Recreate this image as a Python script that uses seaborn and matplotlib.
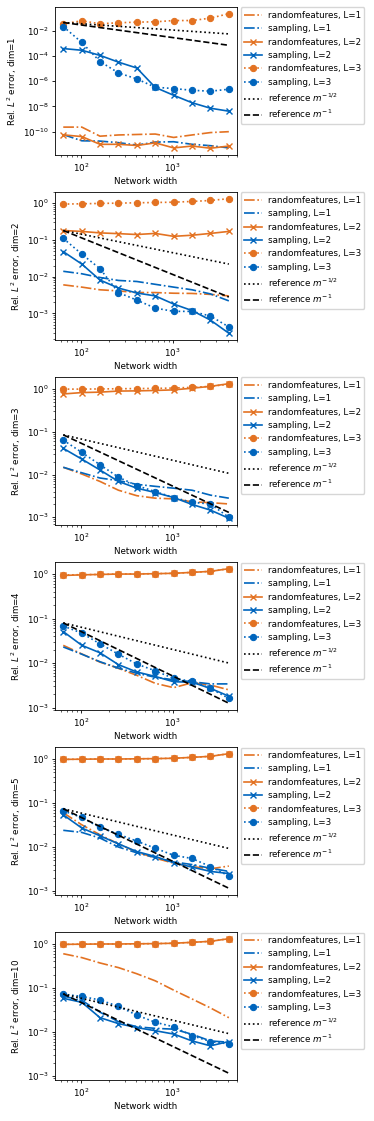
import matplotlib
matplotlib.use("Agg")
import matplotlib.pyplot as plt
import seaborn as sns

# network widths (x axis)
widths = [64, 102, 161, 256, 406, 645, 1024, 1625, 2580, 4096]
dims = [1, 2, 3, 4, 5, 10]

# relative L2 errors, one list per dim
rf_L1 = {
    1: [2.3e-10, 2.3e-10, 4.4e-11, 5.5e-11, 6e-11, 6.5e-11, 3.5e-11, 5.5e-11, 8.5e-11, 1e-10],
    2: [6.0e-3, 5.2e-3, 4.4e-3, 4.1e-3, 3.7e-3, 3.7e-3, 3.55e-3, 3.5e-3, 3.3e-3, 3.0e-3],
    3: [0.0148, 0.0103, 6.9e-3, 4.3e-3, 3.2e-3, 2.8e-3, 2.7e-3, 2.3e-3, 2.2e-3, 2.05e-3],
    4: [0.025, 0.016, 0.0105, 7.6e-3, 5.3e-3, 3.5e-3, 2.8e-3, 3.6e-3, 3.2e-3, 2.5e-3],
    5: [0.06, 0.032, 0.019, 0.0118, 7.7e-3, 5.6e-3, 4.3e-3, 3.6e-3, 3.2e-3, 3.7e-3],
    10: [0.60, 0.49, 0.37, 0.29, 0.21, 0.145, 0.089, 0.056, 0.035, 0.021],
}
samp_L1 = {
    1: [5.9e-11, 1.9e-11, 1.8e-11, 1.35e-11, 8.7e-12, 1.5e-11, 1.6e-11, 1.0e-11, 7.8e-12, 5.2e-12],
    2: [0.014, 0.012, 9.5e-3, 7.9e-3, 7.4e-3, 6.2e-3, 5.2e-3, 4.4e-3, 3.4e-3, 2.2e-3],
    3: [0.0148, 0.011, 8.3e-3, 7.2e-3, 5.9e-3, 5.3e-3, 4.8e-3, 4.3e-3, 3.3e-3, 2.8e-3],
    4: [0.023, 0.0158, 0.0107, 7.7e-3, 5.9e-3, 4.8e-3, 4.2e-3, 3.8e-3, 3.4e-3, 3.4e-3],
    5: [0.024, 0.0215, 0.016, 0.010, 7.4e-3, 5.8e-3, 4.6e-3, 4.0e-3, 3.3e-3, 2.8e-3],
    10: [0.065, 0.052, 0.028, 0.017, 0.013, 0.012, 0.0115, 0.0088, 0.0062, 0.0058],
}
rf_L2 = {
    1: [5.6e-11, 4.1e-11, 1.0e-11, 1.0e-11, 8.1e-12, 1.3e-11, 5.2e-12, 7.3e-12, 4.9e-12, 7.3e-12],
    2: [0.18, 0.17, 0.155, 0.148, 0.14, 0.15, 0.125, 0.134, 0.15, 0.17],
    3: [0.77, 0.83, 0.85, 0.90, 0.91, 0.93, 0.96, 1.05, 1.16, 1.34],
    4: [0.93, 0.96, 0.98, 1.0, 1.0, 1.02, 1.04, 1.09, 1.15, 1.32],
    5: [0.98, 0.99, 1.0, 1.0, 1.01, 1.02, 1.04, 1.09, 1.15, 1.32],
    10: [0.98, 0.99, 1.0, 1.0, 1.01, 1.02, 1.04, 1.09, 1.15, 1.32],
}
samp_L2 = {
    1: [3.8e-4, 2.8e-4, 1.1e-4, 3.2e-5, 1.1e-5, 3.2e-7, 7.6e-8, 1.96e-8, 7.2e-9, 4.2e-9],
    2: [0.048, 0.022, 8.1e-3, 4.9e-3, 3.6e-3, 3.0e-3, 1.8e-3, 1.2e-3, 6.6e-4, 2.9e-4],
    3: [0.041, 0.023, 0.0128, 6.9e-3, 4.8e-3, 3.8e-3, 2.9e-3, 2.0e-3, 1.47e-3, 9.5e-4],
    4: [0.051, 0.025, 0.017, 9.2e-3, 6.3e-3, 5.0e-3, 3.8e-3, 3.7e-3, 2.7e-3, 1.8e-3],
    5: [0.054, 0.027, 0.018, 0.0118, 7.9e-3, 6.1e-3, 4.4e-3, 3.5e-3, 2.8e-3, 2.5e-3],
    10: [0.058, 0.047, 0.021, 0.0154, 0.0125, 0.0106, 8.9e-3, 6.2e-3, 4.8e-3, 6.0e-3],
}
rf_L3 = {
    1: [0.035, 0.06, 0.035, 0.042, 0.047, 0.05, 0.063, 0.063, 0.098, 0.22],
    2: [0.94, 0.96, 0.98, 1.0, 1.02, 1.04, 1.06, 1.11, 1.18, 1.32],
    3: [1.0, 1.0, 1.01, 1.02, 1.03, 1.04, 1.06, 1.1, 1.16, 1.3],
    4: [0.95, 0.97, 0.98, 1.0, 1.01, 1.02, 1.04, 1.09, 1.15, 1.32],
    5: [0.98, 0.99, 1.0, 1.0, 1.01, 1.02, 1.04, 1.09, 1.15, 1.32],
    10: [0.98, 0.99, 1.0, 1.0, 1.01, 1.02, 1.04, 1.09, 1.15, 1.32],
}
samp_L3 = {
    1: [0.021, 1.15e-3, 3.6e-5, 4.5e-6, 1.5e-6, 3.3e-7, 2.6e-7, 1.9e-7, 1.6e-7, 2.3e-7],
    2: [0.11, 0.041, 0.0165, 3.7e-3, 2.3e-3, 1.4e-3, 1.14e-3, 1.14e-3, 8.5e-4, 4.3e-4],
    3: [0.064, 0.033, 0.017, 8.7e-3, 5.5e-3, 4.0e-3, 2.9e-3, 2.24e-3, 2.05e-3, 1.0e-3],
    4: [0.068, 0.047, 0.027, 0.0158, 9.5e-3, 6.7e-3, 4.5e-3, 3.9e-3, 2.7e-3, 1.6e-3],
    5: [0.066, 0.047, 0.028, 0.0196, 0.0136, 9.4e-3, 6.5e-3, 5.5e-3, 3.6e-3, 2.2e-3],
    10: [0.072, 0.064, 0.053, 0.038, 0.024, 0.0165, 0.013, 8.2e-3, 6.0e-3, 5.3e-3],
}

# reference lines: value at first and last width
ref_x = [64, 4096]
ref_half = {1: [0.044, 0.0055], 2: [0.18, 0.022], 3: [0.085, 0.0107],
            4: [0.08, 0.0100], 5: [0.074, 0.0093], 10: [0.073, 0.0091]}
ref_one = {1: [0.044, 0.00069], 2: [0.18, 0.0028], 3: [0.085, 0.0013],
           4: [0.08, 0.00125], 5: [0.074, 0.00116], 10: [0.073, 0.00114]}

orange = "#E37222"
blue = "#0065BD"

# everything scaled down like a shrunk matplotlib figure
plt.rcParams.update({
    'font.family': ['DejaVu Sans'],
    'font.size': 6.3,
    'lines.linewidth': 1.2,
    'lines.markersize': 4.5,
    'axes.linewidth': 0.6,
    'xtick.major.size': 2.3, 'ytick.major.size': 2.3,
    'xtick.minor.size': 1.3, 'ytick.minor.size': 1.3,
    'xtick.major.width': 0.6, 'ytick.major.width': 0.6,
    'xtick.minor.width': 0.45, 'ytick.minor.width': 0.45,
    'xtick.major.pad': 2.3, 'ytick.major.pad': 2.3,
    'axes.labelpad': 2.6,
    'legend.frameon': True,
})

fig, axes = plt.subplots(6, 1, figsize=(3.74, 11.21), dpi=100)
fig.subplots_adjust(left=0.147, right=0.634, top=0.9938, bottom=0.0366, hspace=0.25)

for ax, d in zip(axes, dims):
    sns.lineplot(x=widths, y=rf_L1[d], ax=ax, color=orange, linestyle='-.', label='randomfeatures, L=1')
    sns.lineplot(x=widths, y=samp_L1[d], ax=ax, color=blue, linestyle='-.', label='sampling, L=1')
    sns.lineplot(x=widths, y=rf_L2[d], ax=ax, color=orange, linestyle='-', marker='x',
                 markeredgecolor=orange, markeredgewidth=1.0, label='randomfeatures, L=2')
    sns.lineplot(x=widths, y=samp_L2[d], ax=ax, color=blue, linestyle='-', marker='x',
                 markeredgecolor=blue, markeredgewidth=1.0, label='sampling, L=2')
    sns.lineplot(x=widths, y=rf_L3[d], ax=ax, color=orange, linestyle=':', marker='o',
                 markeredgecolor=orange, label='randomfeatures, L=3')
    sns.lineplot(x=widths, y=samp_L3[d], ax=ax, color=blue, linestyle=':', marker='o',
                 markeredgecolor=blue, label='sampling, L=3')
    sns.lineplot(x=ref_x, y=ref_half[d], ax=ax, color='black', linestyle=':', label='reference $m^{-1/2}$')
    sns.lineplot(x=ref_x, y=ref_one[d], ax=ax, color='black', linestyle='--', label='reference $m^{-1}$')

    ax.set_xscale('log')
    ax.set_yscale('log')
    ax.set_xlabel('Network width')
    ax.set_ylabel(f'Rel. $L^2$ error, dim={d}')
    ax.legend(loc='upper left', bbox_to_anchor=(1.0, 1.02), borderaxespad=0.4,
              handlelength=2.1, handletextpad=0.6, fontsize=6.3)

fig.savefig('out.png', dpi=100)
